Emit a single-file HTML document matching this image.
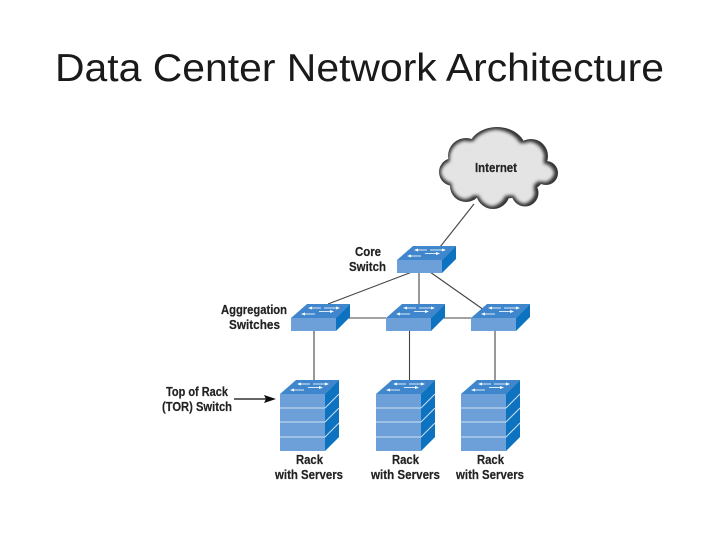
<!DOCTYPE html>
<html>
<head>
<meta charset="utf-8">
<title>Data Center Network Architecture</title>
<style>
html,body{margin:0;padding:0;background:#fff;width:720px;height:540px;overflow:hidden}
svg{display:block}
.l{font-family:"Liberation Sans",sans-serif;font-weight:bold;font-size:12.5px;fill:#222;stroke:#222;stroke-width:.2px}
</style>
</head>
<body>
<svg xmlns="http://www.w3.org/2000/svg" width="720" height="540" viewBox="0 0 720 540">
<defs>
<filter id="soft" x="-5%" y="-5%" width="110%" height="110%"><feGaussianBlur stdDeviation="0.3"/></filter>
<filter id="inner" x="-20%" y="-20%" width="140%" height="140%"><feMorphology operator="erode" radius="2.5"/><feGaussianBlur stdDeviation="1.6"/></filter>
<g id="sw">
<polygon points="0,14 16,0 59,0 45,14" fill="#3f86cc"/>
<polygon points="0,14 45,14 45,27 0,27" fill="#6d9fd8"/>
<polygon points="45,14 59,0 59,13 45,27" fill="#0a72bf"/>
<g stroke="#dbe9f7" stroke-width="1" fill="#fff">
<line x1="19" y1="4" x2="30" y2="4"/><polygon points="17,4 21,2.5 21,5.5" stroke="none"/>
<line x1="33" y1="4" x2="46" y2="4"/><polygon points="49,4 45,2.5 45,5.5" stroke="none"/>
<line x1="28" y1="7.5" x2="40" y2="7.5"/><polygon points="43,7.5 39,6 39,9" stroke="none"/>
<line x1="12" y1="10" x2="24" y2="10"/><polygon points="10,10 14,8.5 14,11.5" stroke="none"/>
</g>
</g>
<g id="rack">
<polygon points="0,14 45,14 59,0 59,57 45,71 0,71" fill="#6d9fd8"/>
<polygon points="45,14 59,0 59,57 45,71" fill="#0a72bf"/>
<polygon points="0,14 16,0 59,0 45,14" fill="#3f86cc"/>
<g stroke="#cfe0f2" stroke-width="1" fill="none">
<polyline points="0,28 45,28 59,14"/>
<polyline points="0,42 45,42 59,28"/>
<polyline points="0,57 45,57 59,43"/>
</g>
<g stroke="#dbe9f7" stroke-width="1" fill="#fff">
<line x1="19" y1="4" x2="30" y2="4"/><polygon points="17,4 21,2.5 21,5.5" stroke="none"/>
<line x1="33" y1="4" x2="46" y2="4"/><polygon points="49,4 45,2.5 45,5.5" stroke="none"/>
<line x1="28" y1="7.5" x2="40" y2="7.5"/><polygon points="43,7.5 39,6 39,9" stroke="none"/>
<line x1="12" y1="10" x2="24" y2="10"/><polygon points="10,10 14,8.5 14,11.5" stroke="none"/>
</g>
</g>
<g id="cl">
<ellipse cx="497" cy="150" rx="29" ry="23"/>
<circle cx="466" cy="156" r="18"/>
<circle cx="453" cy="172" r="14"/>
<circle cx="466" cy="186" r="16"/>
<circle cx="493" cy="192" r="17"/>
<circle cx="525" cy="193" r="13.5"/>
<circle cx="546" cy="173" r="12"/>
<circle cx="531" cy="156" r="17"/>
<ellipse cx="498" cy="172" rx="48" ry="27"/>
</g>
</defs>

<text x="55" y="81" font-family="'Liberation Sans',sans-serif" font-size="39" fill="#1a1a1a" textLength="609" lengthAdjust="spacingAndGlyphs">Data Center Network Architecture</text>

<g filter="url(#soft)">
<!-- connectors -->
<g stroke="#444" stroke-width="1.1" fill="none">
<line x1="474" y1="204" x2="440" y2="247"/>
<line x1="412" y1="272" x2="328" y2="304"/>
<line x1="419" y1="272" x2="419" y2="304"/>
<line x1="430" y1="272" x2="484" y2="310"/>
<line x1="336" y1="318" x2="386" y2="318"/>
<line x1="430" y1="318" x2="472" y2="318"/>
<line x1="314" y1="331" x2="314" y2="380"/>
<line x1="409.5" y1="331" x2="409.5" y2="380"/>
<line x1="495" y1="331" x2="495" y2="380"/>
</g>

<!-- cloud -->
<use href="#cl" fill="#333"/>
<g fill="#e4e4e4" filter="url(#inner)"><g transform="translate(-1 0)"><use href="#cl"/></g></g>

<!-- switches -->
<use href="#sw" x="397" y="246"/>
<use href="#sw" x="291" y="304"/>
<use href="#sw" x="386" y="304"/>
<use href="#sw" x="471" y="304"/>

<!-- racks -->
<use href="#rack" x="280" y="380"/>
<use href="#rack" x="376" y="380"/>
<use href="#rack" x="461" y="380"/>

<!-- arrow -->
<line x1="234" y1="399" x2="270" y2="399" stroke="#111" stroke-width="1.2"/>
<polygon points="276,399 264,395 266,399 264,403" fill="#111"/>

<!-- labels -->
<text class="l" x="475" y="172" textLength="42" lengthAdjust="spacingAndGlyphs">Internet</text>
<text class="l" x="355" y="256" textLength="26" lengthAdjust="spacingAndGlyphs">Core</text>
<text class="l" x="349" y="271" textLength="37" lengthAdjust="spacingAndGlyphs">Switch</text>
<text class="l" x="221" y="314" textLength="66" lengthAdjust="spacingAndGlyphs">Aggregation</text>
<text class="l" x="229" y="329" textLength="51" lengthAdjust="spacingAndGlyphs">Switches</text>
<text class="l" x="166" y="396" textLength="62" lengthAdjust="spacingAndGlyphs">Top of Rack</text>
<text class="l" x="162" y="411" textLength="70" lengthAdjust="spacingAndGlyphs">(TOR) Switch</text>
<text class="l" x="296" y="464" textLength="27" lengthAdjust="spacingAndGlyphs">Rack</text>
<text class="l" x="275" y="479" textLength="68" lengthAdjust="spacingAndGlyphs">with Servers</text>
<text class="l" x="392" y="464" textLength="27" lengthAdjust="spacingAndGlyphs">Rack</text>
<text class="l" x="371" y="479" textLength="69" lengthAdjust="spacingAndGlyphs">with Servers</text>
<text class="l" x="477" y="464" textLength="27" lengthAdjust="spacingAndGlyphs">Rack</text>
<text class="l" x="456" y="479" textLength="68" lengthAdjust="spacingAndGlyphs">with Servers</text>
</g>
</svg>
</body>
</html>
